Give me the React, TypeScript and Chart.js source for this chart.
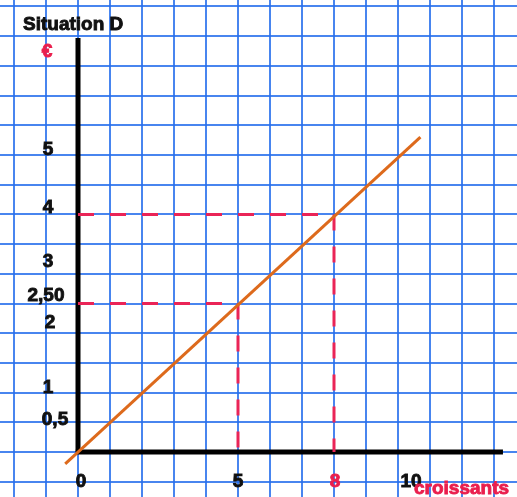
import React, { useEffect, useRef } from "react";
import { Chart, registerables } from "chart.js";

Chart.register(...registerables);

// ---- data ----
const lineX = [-0.4, 10.7];
const lineY = [-0.2, 5.3];
const guideX = [5, 8];
const guideY = [2.5, 4];
const axisXEnd = 13.28;
const axisYEnd = 6.97;
const yTickValues = [0.5, 1, 2, 2.5, 3, 4, 5];
const yTickLabels = ["0,5", "1", "2", "2,50", "3", "4", "5"];
const xTickValues = [0, 5, 8, 10];
const xTickLabels = ["0", "5", "8", "10"];
const title = "Situation D";
const yUnitLabel = "€";
const xUnitLabel = "croissants";

// ---- layout (style only) ----
const W = 517;
const H = 497;
const ORIGIN_X = 78;
const ORIGIN_Y = 452;
const PX_PER_X = 32;
const PX_PER_Y = 59.4;

export default function App() {
  const ref = useRef<HTMLCanvasElement | null>(null);

  useEffect(() => {
    const canvas = ref.current;
    if (!canvas) return;

    const lineData = lineX.map((x, i) => ({ x, y: lineY[i] }));
    const guides = guideX.map((gx, i) => ({
      label: "guide" + i,
      data: [
        { x: 0, y: guideY[i] },
        { x: gx, y: guideY[i] },
        { x: gx, y: 0 },
      ],
      showLine: true,
      borderColor: "#ea2457",
      borderWidth: 3,
      borderDash: [16, 16],
      pointRadius: 0,
      order: 1,
      fill: false,
    }));

    const labelPlugin = {
      id: "labels",
      afterDraw(chart: any) {
        const ctx = chart.ctx as CanvasRenderingContext2D;
        const xs = chart.scales.x;
        const ys = chart.scales.y;
        const put = (t: string, x: number, y: number, color: string) => {
          ctx.fillStyle = color;
          ctx.strokeStyle = color;
          ctx.lineWidth = 0.9;
          ctx.fillText(t, x, y);
          ctx.strokeText(t, x, y);
        };
        ctx.save();
        ctx.textBaseline = "middle";
        ctx.font = "bold 19px 'Liberation Sans', Arial, sans-serif";
        // title
        ctx.textAlign = "left";
        put(title, 23, 25, "#111");
        // y unit
        ctx.textAlign = "center";
        put(yUnitLabel, 47, 52, "#ea1f4e");
        // y tick labels
        const yOffsets: Record<string, [number, number]> = {
          "0,5": [55, -3],
          "1": [48, -5],
          "2": [50, -10],
          "2,50": [46, -8],
          "3": [48, -12],
          "4": [48, -7],
          "5": [48, -5],
        };
        yTickValues.forEach((v, i) => {
          const lab = yTickLabels[i];
          const off = yOffsets[lab] || [48, -6];
          put(lab, off[0], ys.getPixelForValue(v) + off[1], "#111");
        });
        // x tick labels
        const xOff: Record<string, number> = { "0": 3, "5": 0, "8": 1, "10": 13 };
        xTickValues.forEach((v, i) => {
          const lab = xTickLabels[i];
          put(
            lab,
            xs.getPixelForValue(v) + (xOff[lab] || 0),
            ys.getPixelForValue(0) + 30,
            lab === "8" ? "#ea1f4e" : "#111"
          );
        });
        // x unit
        ctx.textAlign = "left";
        put(xUnitLabel, 414, 489, "#ea1f4e");
        ctx.restore();
      },
    };

    const intTicks = (step: number) => (scale: any) => {
      const out: { value: number }[] = [];
      const start = Math.ceil(scale.min / step) * step;
      for (let v = start; v <= scale.max + 1e-9; v += step) out.push({ value: Math.round(v / step) * step });
      scale.ticks = out;
    };

    const gridStyle = {
      color: "rgba(40,112,236,0.85)",
      lineWidth: 2,
      drawTicks: false,
    };

    const chart = new Chart(canvas, {
      type: "scatter",
      data: {
        datasets: [
          {
            label: "line",
            data: lineData,
            showLine: true,
            borderColor: "#dd6a1c",
            borderWidth: 3,
            pointRadius: 0,
            order: 0,
          },
          ...guides,
          {
            label: "yaxis",
            data: [
              { x: 0, y: 0 },
              { x: 0, y: axisYEnd },
            ],
            showLine: true,
            borderColor: "#000",
            borderWidth: 5,
            pointRadius: 0,
            order: 2,
          },
          {
            label: "xaxis",
            data: [
              { x: -0.07, y: 0 },
              { x: axisXEnd, y: 0 },
            ],
            showLine: true,
            borderColor: "#000",
            borderWidth: 5,
            pointRadius: 0,
            order: 2,
          },
        ] as any,
      },
      options: {
        animation: false,
        responsive: false,
        layout: { padding: 0 },
        plugins: {
          legend: { display: false },
          tooltip: { enabled: false },
        },
        scales: {
          x: {
            type: "linear",
            min: -ORIGIN_X / PX_PER_X,
            max: (W - ORIGIN_X) / PX_PER_X,
            grid: gridStyle,
            border: { display: false },
            ticks: { display: false, stepSize: 1 },
            afterBuildTicks: intTicks(1),
          },
          y: {
            type: "linear",
            min: -(H - ORIGIN_Y) / PX_PER_Y,
            max: ORIGIN_Y / PX_PER_Y,
            grid: gridStyle,
            border: { display: false },
            ticks: { display: false, stepSize: 0.5 },
            afterBuildTicks: intTicks(0.5),
          },
        },
      } as any,
      plugins: [labelPlugin],
    });

    return () => chart.destroy();
  }, []);

  return (
    <div style={{ position: "fixed", left: 0, top: 0, width: W, height: H, background: "#fff" }}>
      <canvas ref={ref} width={W} height={H} style={{ display: "block" }} />
    </div>
  );
}
